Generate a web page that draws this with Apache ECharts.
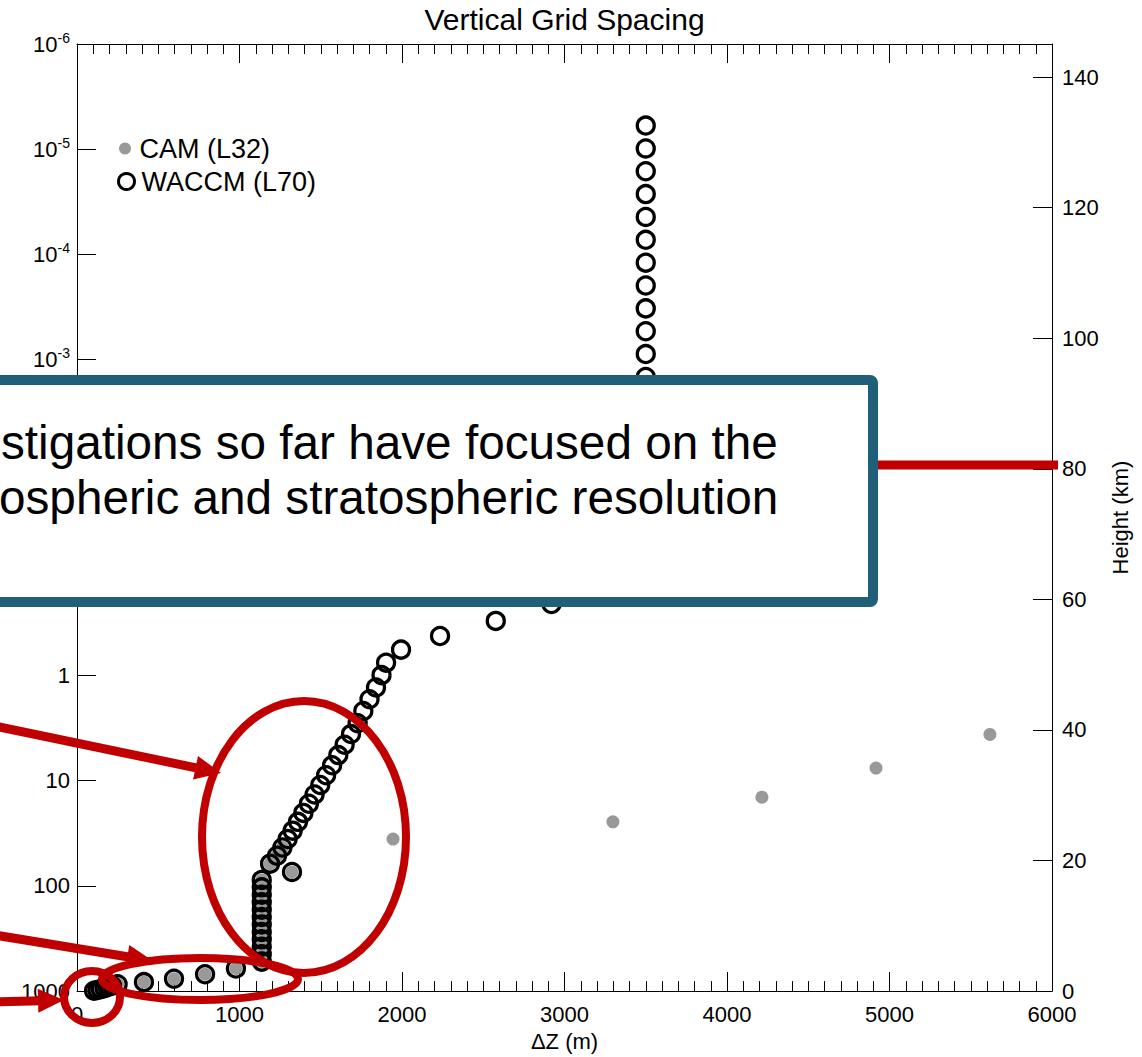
<!DOCTYPE html>
<html><head><meta charset="utf-8">
<script src="https://cdn.jsdelivr.net/npm/echarts@6/dist/echarts.min.js"></script>
<style>html,body{margin:0;padding:0;background:#fff}#c{width:1142px;height:1057px}</style>
</head><body><div id="c"></div>
<script>
// ---- data ----
// CAM (L32): level pressure (hPa) and grid spacing dZ (m), bottom to top
const camPressure = [992.56, 976.33, 957.49, 936.20, 912.64, 887.02, 859.53, 820.86, 763.40, 691.39, 609.78,
  524.69, 445.99, 379.10, 322.24, 273.91, 232.83, 197.91, 168.23, 142.99, 121.55, 103.32, 87.82,
  73.75, 61.52, 51.68, 43.19, 35.92, 24.61, 14.36, 7.59, 3.64];
const camDz = [105, 126, 147, 170, 190, 215, 250, 412, 597, 788, 978,
  1137, 1137, 1137, 1137, 1137, 1137, 1137, 1137, 1137, 1137, 1137, 1137,
  1323, 1188, 1231, 1264, 1945, 3298, 4215, 4917, 5618];

// WACCM (L70): level pressure (hPa) and grid spacing dZ (m), bottom to top
const waccmPressure = [992.56, 976.33, 957.49, 936.20, 912.64, 887.02, 859.53, 820.86, 763.40, 691.39, 609.78,
  524.69, 445.99, 379.10, 322.24, 273.91, 232.83, 197.91, 168.23, 142.99, 121.55, 103.32, 87.82,
  73.75, 61.52, 51.68, 43.19,
  35.92, 29.87, 24.65, 20.26, 16.59, 13.53, 10.99, 8.88, 7.14, 5.72, 4.56, 3.61, 2.85,
  2.18, 1.685, 1.303, 0.994, 0.757, 0.569, 0.422, 0.3035, 0.2095, 0.1266,
  0.0796, 0.04828, 0.02928, 0.01776, 0.01077, 0.006534, 0.003962, 0.002404, 0.001458,
  0.0008843, 0.0005363, 0.0003253, 0.0001973, 0.0001197, 0.0000726, 0.0000440, 0.0000267,
  0.0000162, 0.00000983, 0.00000596];
const waccmDz = [105, 126, 147, 170, 190, 215, 250, 412, 597, 788, 978,
  1137, 1137, 1137, 1137, 1137, 1137, 1137, 1137, 1137, 1137, 1137, 1137,
  1323, 1188, 1231, 1264,
  1296, 1327, 1360, 1393, 1427, 1462, 1497, 1533, 1570, 1608, 1647, 1686, 1727,
  1762, 1800, 1840, 1874, 1902, 1994, 2234, 2577, 2920, 3250,
  3500, 3500, 3500, 3500, 3500, 3500, 3500, 3500, 3500,
  3500, 3500, 3500, 3500, 3500, 3500, 3500, 3500,
  3500, 3500, 3500];

const seriesNames = ['CAM (L32)', 'WACCM (L70)'];
const boxLines = ['stigations so far have focused on the', 'ospheric and stratospheric resolution'];
const titleText = 'Vertical Grid Spacing';
const xName = '\u0394Z (m)';
const rightName = 'Height (km)';
const hiddenPressureExponents = [-2, -1]; // labels covered by the annotation box in the reference
const heightMax = 145.06; // 7 km scale height * ln(1000 / 1e-6)

// ---- chart ----
const FONT = '"Liberation Sans", Arial, Helvetica, sans-serif';
const RED = '#c00000';
const chart = echarts.init(document.getElementById('c'), null, {renderer: 'svg'});

function pairs(xs, ys) { return xs.map((x, i) => [x, ys[i]]); }

function arrow(x1, y1, x2, y2) {
  const dx = x2 - x1, dy = y2 - y1, len = Math.hypot(dx, dy), ux = dx / len, uy = dy / len;
  const L = 26, W = 12;
  const bx = x2 - ux * L, by = y2 - uy * L;
  return [
    {type: 'line', z: 120, shape: {x1: x1, y1: y1, x2: bx + ux * 3, y2: by + uy * 3}, style: {stroke: RED, lineWidth: 9}},
    {type: 'polygon', z: 121, shape: {points: [[x2, y2], [bx - uy * W, by + ux * W], [bx + uy * W, by - ux * W]]}, style: {fill: RED}}
  ];
}

const axisCommon = {
  axisLine: {show: true, onZero: false, lineStyle: {color: '#000', width: 1}},
  axisTick: {show: true, inside: true, length: 19, lineStyle: {color: '#000', width: 1}},
  splitLine: {show: false}
};

const option = {
  animation: false,
  backgroundColor: '#fff',
  title: {
    text: titleText, left: 564.5, textAlign: 'center', top: 4, padding: 0,
    textStyle: {fontFamily: FONT, fontSize: 30, fontWeight: 'normal', color: '#000'}
  },
  grid: {left: 77, right: 90, top: 44, bottom: 64, containLabel: false},
  legend: [
    {data: [seriesNames[0]], left: 119, top: 135, padding: 0, orient: 'vertical', icon: 'circle',
     itemWidth: 19, itemHeight: 12, itemGap: 0,
     textStyle: {fontFamily: FONT, fontSize: 27, color: '#000'}},
    {data: [seriesNames[1]], left: 117, top: 168, padding: 0, orient: 'vertical', icon: 'circle',
     itemWidth: 20, itemHeight: 16, itemGap: 0,
     itemStyle: {color: 'rgba(0,0,0,0)', borderColor: '#000', borderWidth: 3, opacity: 1},
     textStyle: {fontFamily: FONT, fontSize: 27, color: '#000'}}
  ],
  xAxis: [
    Object.assign({}, axisCommon, {
      type: 'value', position: 'bottom', min: 0, max: 6000, interval: 1000,
      minorTick: {show: true, splitNumber: 10, length: 10, lineStyle: {color: '#000', width: 1}},
      minorSplitLine: {show: false},
      axisLabel: {fontFamily: FONT, fontSize: 22, color: '#000', margin: 12,
        formatter: function (v) { return String(Math.round(v)); }},
      name: xName, nameLocation: 'middle', nameGap: 36,
      nameTextStyle: {fontFamily: FONT, fontSize: 22, color: '#000'}
    }),
    Object.assign({}, axisCommon, {
      type: 'value', position: 'top', min: 0, max: 6000, interval: 1000,
      minorTick: {show: true, splitNumber: 10, length: 10, lineStyle: {color: '#000', width: 1}},
      minorSplitLine: {show: false},
      axisLabel: {show: false}
    })
  ],
  yAxis: [
    Object.assign({}, axisCommon, {
      type: 'log', logBase: 10, inverse: true, min: 1e-6, max: 1000, splitNumber: 9,
      position: 'left',
      minorTick: {show: false},
      axisLabel: {
        margin: 7, color: '#000',
        formatter: function (v) {
          const e = Math.round(Math.log10(v));
          if (hiddenPressureExponents.indexOf(e) >= 0) return '';
          if (e >= 0) return '{b|' + Math.round(Math.pow(10, e)) + '}';
          return '{b|10}{s|' + e + '}';
        },
        rich: {
          b: {fontFamily: FONT, fontSize: 22, color: '#000', lineHeight: 27},
          s: {fontFamily: FONT, fontSize: 14, color: '#000', lineHeight: 14, verticalAlign: 'top'}
        }
      }
    }),
    Object.assign({}, axisCommon, {
      type: 'value', position: 'right', min: 0, max: heightMax, interval: 20,
      axisLabel: {fontFamily: FONT, fontSize: 22, color: '#000', margin: 10,
        formatter: function (v) { return v > 141 ? '' : String(Math.round(v)); }},
      name: rightName, nameLocation: 'middle', nameRotate: 90, nameGap: 44,
      nameTextStyle: {fontFamily: FONT, fontSize: 22, color: '#000'}
    })
  ],
  series: [
    {
      name: seriesNames[0], type: 'scatter', xAxisIndex: 0, yAxisIndex: 0,
      symbol: 'circle', symbolSize: 13, z: 2,
      itemStyle: {color: '#999999', opacity: 1},
      data: pairs(camDz, camPressure)
    },
    {
      name: seriesNames[1], type: 'scatter', xAxisIndex: 0, yAxisIndex: 0,
      symbol: 'circle', symbolSize: 17, z: 3,
      itemStyle: {color: 'rgba(0,0,0,0)', borderColor: '#000', borderWidth: 3.3, opacity: 1},
      data: pairs(waccmDz, waccmPressure)
    }
  ],
  graphic: [].concat(
    [
      {type: 'rect', z: 100, shape: {x: -20, y: 380, width: 893, height: 222, r: 3},
       style: {fill: '#fff', stroke: '#1f5f78', lineWidth: 10}},
      {type: 'text', z: 101, x: 1, y: 442,
       style: {text: boxLines[0], fontFamily: FONT, fontSize: 47.7, fill: '#000', textAlign: 'left', textVerticalAlign: 'middle', verticalAlign: 'middle'}},
      {type: 'text', z: 101, x: -1, y: 497,
       style: {text: boxLines[1], fontFamily: FONT, fontSize: 47.7, fill: '#000', textAlign: 'left', textVerticalAlign: 'middle', verticalAlign: 'middle'}},
      {type: 'line', z: 100, shape: {x1: 878, y1: 465, x2: 1058, y2: 465}, style: {stroke: RED, lineWidth: 9}},
      {type: 'ellipse', z: 110, shape: {cx: 304, cy: 837, rx: 102, ry: 136}, style: {fill: 'none', stroke: RED, lineWidth: 8}},
      {type: 'ellipse', z: 110, shape: {cx: 200, cy: 979, rx: 98, ry: 21}, style: {fill: 'none', stroke: RED, lineWidth: 8}},
      {type: 'ellipse', z: 110, shape: {cx: 92, cy: 997, rx: 28, ry: 26}, style: {fill: 'none', stroke: RED, lineWidth: 8}}
    ],
    arrow(-5, 726, 221, 773),
    arrow(-5, 935, 153, 961),
    arrow(-5, 1002, 64, 1000)
  )
};
chart.setOption(option);
</script>
</body></html>
